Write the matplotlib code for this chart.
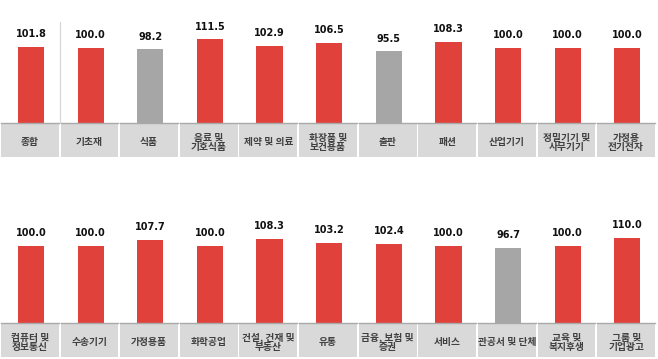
import matplotlib.pyplot as plt
from matplotlib.patches import Rectangle
import matplotlib.transforms as mtransforms

plt.rcParams["font.family"] = ["Noto Sans CJK KR", "DejaVu Sans"]

# ── Data ────────────────────────────────────────────────────────────────
top_labels = ["종합", "기초재", "식품", "음료 및\n기호식품", "제약 및 의료",
              "화장품 및\n보건용품", "출판", "패션", "산업기기",
              "정밀기기 및\n사무기기", "가정용\n전기전자"]
top_values = [101.8, 100.0, 98.2, 111.5, 102.9, 106.5, 95.5, 108.3,
              100.0, 100.0, 100.0]

bottom_labels = ["컴퓨터 및\n정보통신", "수송기기", "가정용품", "화학공업",
                 "건설, 건재 및\n부동산", "유통", "금융, 보험 및\n증권",
                 "서비스", "관공서 및 단체", "교육 및\n복지후생", "그룹 및\n기업광고"]
bottom_values = [100.0, 100.0, 107.7, 100.0, 108.3, 103.2, 102.4, 100.0,
                 96.7, 100.0, 110.0]

RED = "#e0413a"
GREY_BAR = "#a6a6a6"
BOX = "#d9d9d9"

W, H = 658, 359
fig = plt.figure(figsize=(W / 100, H / 100), dpi=100)


def draw_row(values, labels, base_px, top_px, px_per_unit, box_h_px, divider=False):
    # axes spans from the bar baseline (pixels from top) up to top_px
    left, right = 0 / W, 656 / W
    ax_h = base_px - top_px
    ax = fig.add_axes([left, 1 - base_px / H, right - left, ax_h / H])
    n = len(values)
    ax.set_xlim(-0.5, n - 0.5)
    ax.set_ylim(0, ax_h / px_per_unit)
    ax.axis("off")

    colors = [GREY_BAR if v < 100 else RED for v in values]
    x = list(range(n))
    ax.bar([xi + 0.02 for xi in x], values, width=0.44, color=colors, zorder=2)
    for xi, v in zip(x, values):
        ax.annotate(f"{v:.1f}", (xi + 0.02, v), xytext=(0, 5.5),
                    textcoords="offset points", ha="center", va="bottom",
                    fontsize=7, fontweight="bold", color="#111111",
                    family=["Liberation Sans Narrow", "DejaVu Sans"])

    # label boxes below the baseline
    trans = mtransforms.blended_transform_factory(ax.transData, ax.transAxes)
    box_h = box_h_px / ax_h
    gap = 1.8 / 59.6
    for xi, lab in zip(x, labels):
        ax.add_patch(Rectangle((xi - 0.5 + gap / 2, -box_h), 1 - gap, box_h,
                               transform=trans, facecolor=BOX, edgecolor="none",
                               clip_on=False, zorder=1))
        ax.plot([xi - 0.5 + gap / 2, xi + 0.5 - gap / 2], [0, 0], transform=trans,
                color="#a9a9a9", lw=1.0, clip_on=False, zorder=3)
        lines = lab.split("\n")
        centre_px = box_h_px / 2 + 1.5
        step_px = 9.5
        for k, line in enumerate(lines):
            off = (k - (len(lines) - 1) / 2) * step_px
            ax.text(xi, -(centre_px + off) / ax_h, line, transform=trans,
                    ha="center", va="center_baseline", fontsize=7,
                    fontweight="bold", color="#404040")

    if divider:
        ax.plot([0.5, 0.5], [0, (base_px - 22) / px_per_unit], color="#d4d4d4",
                lw=0.8, zorder=1)
    return ax


draw_row(top_values, top_labels, base_px=123, top_px=8, px_per_unit=0.75,
         box_h_px=34, divider=True)
draw_row(bottom_values, bottom_labels, base_px=323, top_px=200, px_per_unit=0.775,
         box_h_px=34)

fig.savefig("out.png", dpi=100)
